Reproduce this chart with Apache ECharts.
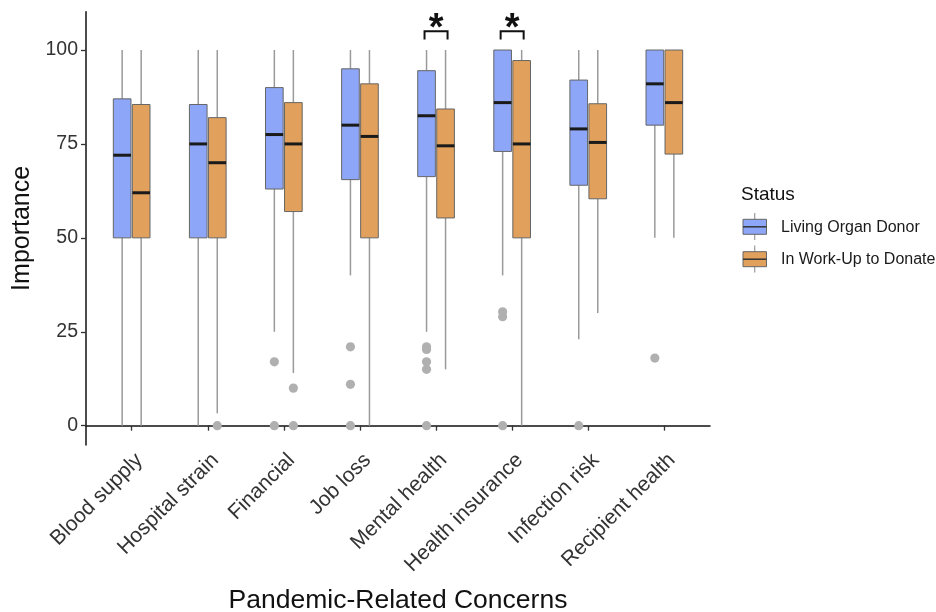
<!DOCTYPE html>
<html>
<head>
<meta charset="utf-8">
<script src="https://cdn.jsdelivr.net/npm/echarts@6/dist/echarts.min.js"></script>
<style>
html,body{margin:0;padding:0;background:#fff;}
#chart{width:936px;height:612px;}
</style>
</head>
<body>
<div id="chart"></div>
<script>
// ---- data ----
const categories = ['Blood supply','Hospital strain','Financial','Job loss','Mental health','Health insurance','Infection risk','Recipient health'];
const yTicks = [0, 25, 50, 75, 100];
const seriesNames = ['Living Organ Donor', 'In Work-Up to Donate'];

// Living Organ Donor: whisker low, Q1, median, Q3, whisker high
const donorLow  = [0, 0, 25, 40, 25, 40, 23, 50];
const donorQ1   = [50, 50, 63, 65.5, 66.3, 73, 64, 80];
const donorMed  = [72, 75, 77.5, 80, 82.5, 86, 79, 91];
const donorQ3   = [87, 85.5, 90, 95, 94.5, 100, 92, 100];
const donorHigh = [100, 100, 100, 100, 100, 100, 100, 100];

// In Work-Up to Donate
const workupLow  = [0, 3.3, 14, 0, 15, 0, 30, 50];
const workupQ1   = [50, 50, 57, 50, 55.3, 50, 60.4, 72.3];
const workupMed  = [62, 70, 75, 77, 74.5, 75, 75.4, 86];
const workupQ3   = [85.5, 82, 86, 91, 84.3, 97.2, 85.7, 100];
const workupHigh = [100, 100, 100, 100, 100, 100, 100, 100];

// outliers: [category number (1-based), value]
const donorOutliers = [[3,17],[3,0],[4,21],[4,11],[4,0],[5,21],[5,20.3],[5,17],[5,15],[5,0],[6,30.3],[6,29],[6,0],[7,0],[8,18]];
const workupOutliers = [[2,0],[3,10],[3,0]];

// significance brackets: [category number, bracket level]
const sigMarks = [[5,105],[6,105]];

// ---- styles ----
const FONT = "'Liberation Sans', Arial, Helvetica, sans-serif";
const BLUE = '#8DA6F8';
const ORANGE = '#E1A05B';
const BOX_BORDER = '#666666';
const WHISKER = '#9a9a9a';
const OUTLIER = '#b0b0b0';
const OFFSET = 0.125; // fraction of category band
const BOXW = 0.232;
const catTicks = categories.map((c, i) => i + 1);
const LABEL_SHIFT = 0.1;
const catLabelPos = categories.map((c, i) => i + 1 + LABEL_SHIFT);

function boxData(low, q1, med, q3, high) {
  return categories.map((c, i) => [i + 1, low[i], q1[i], med[i], q3[i], high[i]]);
}

function makeBoxRender(offsetSign, fill) {
  return function (params, api) {
    const x = api.value(0);
    const band = api.size([1, 0])[0];
    const cx = api.coord([x, 0])[0] + offsetSign * OFFSET * band;
    const w = BOXW * band;
    const yLow = api.coord([x, api.value(1)])[1];
    const yQ1 = api.coord([x, api.value(2)])[1];
    const yMed = api.coord([x, api.value(3)])[1];
    const yQ3 = api.coord([x, api.value(4)])[1];
    const yHigh = api.coord([x, api.value(5)])[1];
    const children = [];
    if (yHigh < yQ3 - 0.5) children.push({type:'line', shape:{x1:cx, y1:yHigh, x2:cx, y2:yQ3}, style:{stroke:WHISKER, lineWidth:1.5}});
    if (yLow > yQ1 + 0.5) children.push({type:'line', shape:{x1:cx, y1:yQ1, x2:cx, y2:yLow}, style:{stroke:WHISKER, lineWidth:1.5}});
    children.push({type:'rect', shape:{x:cx - w/2, y:yQ3, width:w, height:yQ1 - yQ3}, style:{fill:fill, stroke:BOX_BORDER, lineWidth:1}});
    children.push({type:'line', shape:{x1:cx - w/2, y1:yMed, x2:cx + w/2, y2:yMed}, style:{stroke:'#1a1a1a', lineWidth:3}});
    return {type:'group', children};
  };
}

function makeOutlierRender(offsetSign) {
  return function (params, api) {
    const x = api.value(0);
    const band = api.size([1, 0])[0];
    const p = api.coord([x, api.value(1)]);
    return {type:'circle', shape:{cx:p[0] + offsetSign * OFFSET * band, cy:p[1], r:4.6}, style:{fill:OUTLIER}};
  };
}

function sigRender(params, api) {
  const x = api.value(0);
  const band = api.size([1, 0])[0];
  const c = api.coord([x, api.value(1)]);
  const xl = c[0] - OFFSET * band - 2;
  const xr = c[0] + OFFSET * band + 2;
  const yTop = c[1];
  const yEnd = api.coord([x, api.value(1) - 2.2])[1];
  return {type:'group', children:[
    {type:'polyline', shape:{points:[[xl, yEnd],[xl, yTop],[xr, yTop],[xr, yEnd]]}, style:{stroke:'#111', lineWidth:2, fill:null}},
    {type:'text', x:c[0], y:yTop - 1.5, style:{text:'*', fill:'#111', font:'bold 38px ' + FONT, align:'center', verticalAlign:'middle'}}
  ]};
}

const chart = echarts.init(document.getElementById('chart'), null, {renderer:'canvas'});

const legendGraphic = [
  {type:'text', left:741, top:185, style:{text:'Status', fill:'#111', font:'19px ' + FONT}},
  {type:'line', shape:{x1:754.7, y1:213, x2:754.7, y2:240}, style:{stroke:WHISKER, lineWidth:1.2}},
  {type:'rect', shape:{x:743, y:219.3, width:23.5, height:15}, style:{fill:BLUE, stroke:BOX_BORDER, lineWidth:1}},
  {type:'line', shape:{x1:743, y1:226.8, x2:766.5, y2:226.8}, style:{stroke:'#333', lineWidth:1.5}},
  {type:'text', left:781, top:220, style:{text:seriesNames[0], fill:'#1a1a1a', font:'16px ' + FONT}},
  {type:'line', shape:{x1:754.7, y1:245.5, x2:754.7, y2:272.5}, style:{stroke:WHISKER, lineWidth:1.2}},
  {type:'rect', shape:{x:743, y:251.7, width:23.5, height:15}, style:{fill:ORANGE, stroke:BOX_BORDER, lineWidth:1}},
  {type:'line', shape:{x1:743, y1:259.2, x2:766.5, y2:259.2}, style:{stroke:'#333', lineWidth:1.5}},
  {type:'text', left:781, top:252, style:{text:seriesNames[1], fill:'#1a1a1a', font:'16px ' + FONT}}
];

const option = {
  animation: false,
  backgroundColor: '#fff',
  textStyle: {fontFamily: FONT},
  grid: {left: 86, right: 226, top: 11.7, bottom: 167, containLabel: false, outerBoundsMode: 'none'},
  xAxis: {
    type: 'value', min: 0.4, max: 8.6,
    name: 'Pandemic-Related Concerns', nameLocation: 'middle', nameGap: 142,
    nameTextStyle: {fontSize: 26.5, color: '#111', fontFamily: FONT},
    axisLine: {show: true, lineStyle: {color: '#111', width: 1.5}},
    axisTick: {show: true, length: 5, lineStyle: {color: '#333', width: 1.3}, customValues: catTicks},
    axisLabel: {show: true, rotate: 45, fontSize: 21, color: '#333', margin: 12, fontFamily: FONT,
      customValues: catLabelPos, formatter: v => categories[Math.round(v - LABEL_SHIFT) - 1] || ''},
    splitLine: {show: false}
  },
  yAxis: {
    type: 'value', min: -5.14, max: 110.2,
    name: 'Importance', nameLocation: 'middle', nameGap: 47,
    nameTextStyle: {fontSize: 25, color: '#111', fontFamily: FONT},
    axisLine: {show: true, lineStyle: {color: '#111', width: 1.5}},
    axisTick: {show: true, length: 5, lineStyle: {color: '#333', width: 1.3}, customValues: yTicks},
    axisLabel: {show: true, fontSize: 19.5, color: '#333', margin: 8, fontFamily: FONT, customValues: yTicks},
    splitLine: {show: false}
  },
  graphic: legendGraphic,
  series: [
    {name: seriesNames[0], type: 'custom', renderItem: makeBoxRender(-1, BLUE), data: boxData(donorLow, donorQ1, donorMed, donorQ3, donorHigh), encode: {x: 0, y: [1,2,3,4,5]}, z: 2},
    {name: seriesNames[1], type: 'custom', renderItem: makeBoxRender(1, ORANGE), data: boxData(workupLow, workupQ1, workupMed, workupQ3, workupHigh), encode: {x: 0, y: [1,2,3,4,5]}, z: 2},
    {name: seriesNames[0] + ' outliers', type: 'custom', renderItem: makeOutlierRender(-1), data: donorOutliers, encode: {x: 0, y: 1}, z: 3},
    {name: seriesNames[1] + ' outliers', type: 'custom', renderItem: makeOutlierRender(1), data: workupOutliers, encode: {x: 0, y: 1}, z: 3},
    {name: 'significance', type: 'custom', renderItem: sigRender, data: sigMarks, encode: {x: 0, y: 1}, z: 4, clip: false}
  ]
};
chart.setOption(option);
</script>
</body>
</html>
